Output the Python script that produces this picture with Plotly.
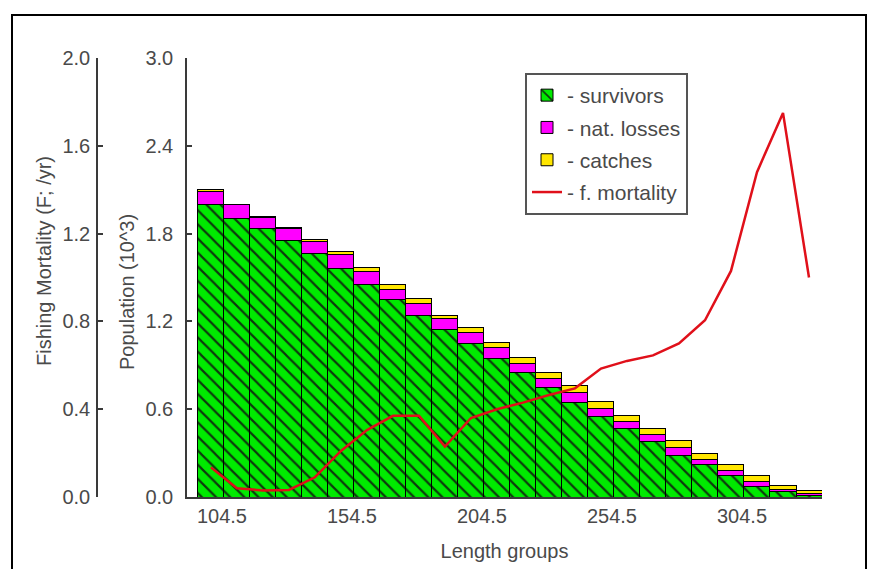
import plotly.graph_objects as go

# Length group mid-points (bar centres)
length_groups = [104.5, 114.5, 124.5, 134.5, 144.5, 154.5, 164.5, 174.5,
                 184.5, 194.5, 204.5, 214.5, 224.5, 234.5, 244.5, 254.5,
                 264.5, 274.5, 284.5, 294.5, 304.5, 314.5, 324.5, 334.5]

# Population (10^3)
survivors = [1.996, 1.900, 1.837, 1.750, 1.666, 1.563, 1.454, 1.347,
             1.237, 1.148, 1.051, 0.948, 0.850, 0.750, 0.645, 0.549,
             0.470, 0.378, 0.287, 0.219, 0.144, 0.070, 0.036, 0.012]
nat_losses = [0.090, 0.096, 0.076, 0.088, 0.083, 0.093, 0.086, 0.074,
              0.083, 0.074, 0.071, 0.071, 0.065, 0.062, 0.069, 0.057,
              0.044, 0.047, 0.048, 0.038, 0.034, 0.033, 0.018, 0.012]
catches = [0.012, 0.004, 0.003, 0.003, 0.008, 0.025, 0.030, 0.033,
           0.038, 0.020, 0.035, 0.040, 0.040, 0.040, 0.045, 0.045,
           0.040, 0.045, 0.048, 0.042, 0.045, 0.047, 0.028, 0.019]

# Fishing mortality (F; /yr)
f_mortality = [0.135, 0.040, 0.030, 0.032, 0.090, 0.210, 0.305, 0.370,
               0.370, 0.230, 0.360, 0.400, 0.430, 0.465, 0.495, 0.585,
               0.620, 0.645, 0.700, 0.805, 1.030, 1.480, 1.750, 1.000]

pop_ticks = [0.0, 0.6, 1.2, 1.8, 2.4, 3.0]
f_ticks = [0.0, 0.4, 0.8, 1.2, 1.6, 2.0]
x_ticks = [104.5, 154.5, 204.5, 254.5, 304.5]

# page geometry (pixels)
W, H = 870, 569
L, R, T, B = 20, 48, 58, 72
PW, PH = W - L - R, H - T - B


def px_x(x):
    return (x - L) / PW


def px_y(y):
    return 1 - (y - T) / PH


FONT = "Liberation Sans, Arial, sans-serif"
TXT = "#4a4a4a"
AX = "#3a3a3a"
GREEN = "#00ea00"

fig = go.Figure()

fig.add_trace(go.Bar(
    x=length_groups, y=survivors, width=10, name="- survivors",
    legendgroup="a",
    marker=dict(color=GREEN, line=dict(color="black", width=1),
                pattern=dict(shape="\\", fgcolor="#0d3a0d", bgcolor=GREEN,
                             size=10, solidity=0.22)),
))
fig.add_trace(go.Bar(
    x=length_groups, y=nat_losses, width=10, name="- nat. losses",
    legendgroup="b",
    marker=dict(color="#ff00ff", line=dict(color="black", width=1)),
))
fig.add_trace(go.Bar(
    x=length_groups, y=catches, width=10, name="- catches",
    legendgroup="c",
    marker=dict(color="#ffe600", line=dict(color="black", width=1)),
))
fig.add_trace(go.Scatter(
    x=length_groups, y=f_mortality, mode="lines", name="- f. mortality",
    legendgroup="d", yaxis="y2",
    line=dict(color="#e0101a", width=2.5),
))

fig.update_layout(
    width=W, height=H,
    margin=dict(l=L, r=R, t=T, b=B),
    template="none",
    plot_bgcolor="white", paper_bgcolor="white",
    barmode="stack",
    font=dict(family=FONT, size=20, color=TXT),
    showlegend=True,
    legend=dict(
        x=px_x(525), y=px_y(73), xanchor="left", yanchor="top",
        bgcolor="white", bordercolor="#555555", borderwidth=2,
        traceorder="grouped", tracegroupgap=2,
        entrywidth=155,
        font=dict(family=FONT, size=21, color=TXT),
    ),
    xaxis=dict(
        domain=[px_x(187), 1], range=[95.3, 339.5],
        tickvals=x_ticks, ticktext=[f"{v:.1f}" for v in x_ticks],
        ticks="", showgrid=False, zeroline=False,
        showline=True, linecolor=AX, linewidth=1.5,
        ticklabelshift=11,
        title=dict(text="Length groups", standoff=18, font=dict(size=20)),
    ),
    yaxis=dict(
        range=[0, 3.0], tickvals=pop_ticks,
        ticktext=[f"{v:.1f}" for v in pop_ticks],
        ticks="inside", ticklen=5, tickwidth=1.5, tickcolor=AX,
        showgrid=False, zeroline=False,
        showline=True, linecolor=AX, linewidth=1.5,
        ticklabelstandoff=8,
    ),
    yaxis2=dict(
        range=[0, 2.0], tickvals=f_ticks,
        ticktext=[f"{v:.1f}" for v in f_ticks],
        overlaying="y", side="left", anchor="free", position=px_x(97),
        ticks="inside", ticklen=5, tickwidth=1.5, tickcolor=AX,
        showgrid=False, zeroline=False,
        showline=True, linecolor=AX, linewidth=1.5,
        ticklabelstandoff=2,
    ),
)

fig.add_annotation(
    text="Fishing Mortality (F; /yr)", textangle=-90,
    xref="paper", yref="paper", x=px_x(44), y=px_y(261),
    xanchor="center", yanchor="middle", showarrow=False,
    font=dict(family=FONT, size=20, color=TXT),
)
fig.add_annotation(
    text="Population (10^3)", textangle=-90,
    xref="paper", yref="paper", x=px_x(127), y=px_y(292),
    xanchor="center", yanchor="middle", showarrow=False,
    font=dict(family=FONT, size=20, color=TXT),
)

# outer frame (bottom edge falls outside the page)
fig.add_shape(
    type="rect", xref="paper", yref="paper",
    x0=px_x(12), x1=px_x(866), y0=px_y(15), y1=px_y(590),
    line=dict(color="black", width=2), layer="above",
)

# drop the browser's default body margin so the figure sits at the page corner
fig.write_html("out.html", config={"displayModeBar": False},
               post_script="document.body.style.margin='0px';")
